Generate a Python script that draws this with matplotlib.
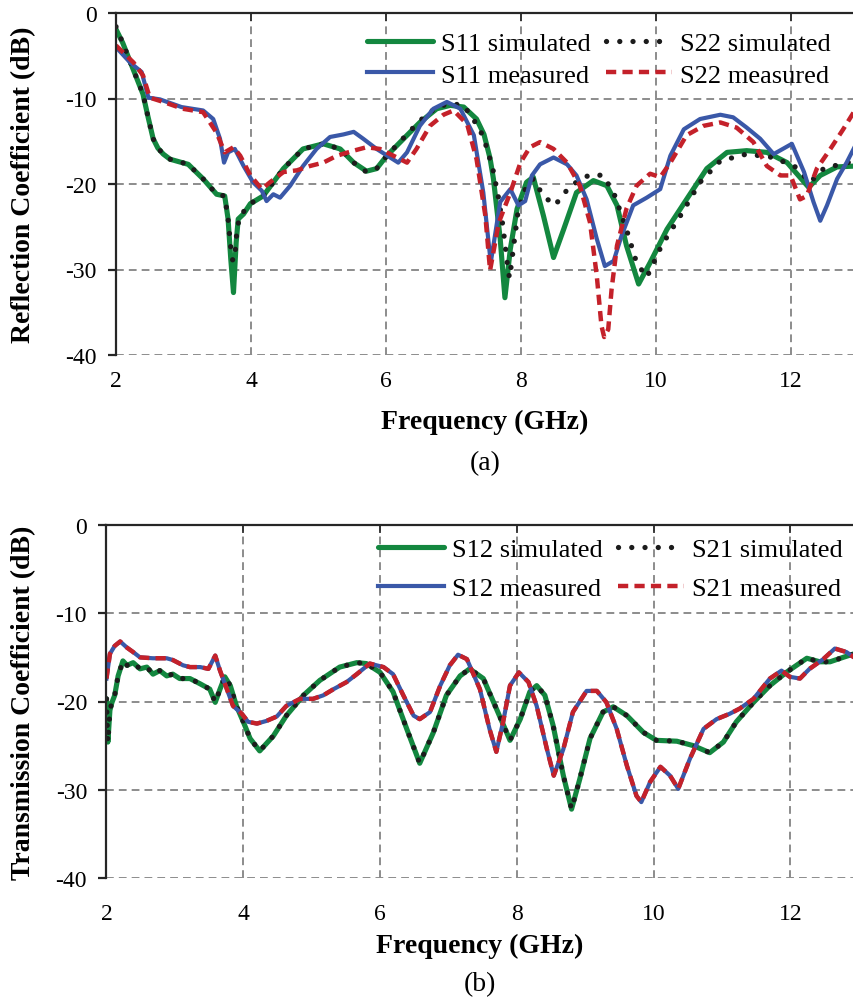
import matplotlib
matplotlib.use('Agg')
import matplotlib.pyplot as plt

plt.rcParams['font.family'] = ['Liberation Serif', 'DejaVu Serif']
plt.rcParams['axes.unicode_minus'] = False

# Reflection coefficient data (frequency in GHz, level in dB)
s11_sim_f = [2.00, 2.10, 2.20, 2.30, 2.40, 2.47, 2.55, 2.62, 2.70, 2.80, 3.07, 3.29, 3.49, 3.61, 3.66, 3.70, 3.74,
             3.78, 3.81, 3.89, 3.99, 4.18, 4.48, 4.77, 5.07, 5.32, 5.52, 5.71, 5.86, 6.01, 6.26,
             6.50, 6.75, 6.95, 7.15, 7.34, 7.45, 7.54, 7.59, 7.69, 7.76, 7.84, 7.94, 8.08, 8.18,
             8.33, 8.48, 8.63, 8.82, 9.07, 9.27, 9.42, 9.56, 9.74, 9.91, 10.16, 10.45, 10.75,
             11.05, 11.34, 11.64, 11.94, 12.26, 12.43, 12.68, 12.95]
s11_sim_db = [-1.9, -3.5, -5.5, -7.5, -9.5, -12.0, -14.7, -15.8, -16.5, -17.1, -17.7, -19.4, -21.2, -21.4, -24.1, -28.8, -32.7,
              -26.8, -24.1, -23.5, -22.3, -21.4, -18.2, -15.9, -15.3, -15.9, -17.5, -18.5, -18.2, -16.7, -14.7,
              -12.8, -11.2, -10.8, -11.0, -12.4, -14.2, -17.0, -19.4, -26.4, -33.3, -27.6, -22.9, -19.8, -19.2,
              -23.7, -28.6, -25.3, -21.0, -19.6, -20.2, -22.5, -27.2, -31.7, -29.2, -25.3, -21.8, -18.2,
              -16.3, -16.1, -16.3, -17.5, -20.4, -19.0, -18.0, -17.9]

s22_sim_f = [2.00, 2.10, 2.20, 2.30, 2.40, 2.47, 2.55, 2.62, 2.70, 2.80, 3.07, 3.29, 3.49, 3.61, 3.66, 3.70, 3.73,
             3.76, 3.79, 3.83, 3.99, 4.18, 4.48, 4.77, 5.07, 5.32, 5.52, 5.71, 5.86, 6.01, 6.26,
             6.50, 6.75, 6.95, 7.15, 7.39, 7.48, 7.58, 7.66, 7.73, 7.81, 7.83, 7.89, 7.96, 8.08,
             8.18, 8.33, 8.50, 8.73, 9.02, 9.22, 9.39, 9.56, 9.71, 9.86, 9.93, 10.08, 10.36, 10.65,
             10.95, 11.34, 11.74, 12.06, 12.28, 12.48, 12.82, 12.95]
s22_sim_db = [-1.6, -3.5, -5.5, -7.5, -9.5, -12.0, -14.7, -15.8, -16.5, -17.1, -17.7, -19.4, -21.2, -21.4, -24.1, -27.5, -29.0,
              -28.5, -25.5, -23.8, -22.3, -21.4, -18.2, -15.9, -15.3, -15.9, -17.5, -18.6, -18.2, -16.7, -14.6,
              -12.6, -11.0, -10.6, -10.8, -13.6, -15.5, -18.2, -21.4, -24.9, -30.3, -31.0, -27.2, -22.9, -20.2,
              -19.4, -21.4, -22.5, -20.2, -18.9, -19.0, -21.4, -25.3, -29.2, -30.9, -29.8, -27.2, -23.7, -19.8,
              -17.3, -16.5, -16.9, -18.0, -19.8, -18.2, -17.5, -17.4]

s11_meas_f = [2.00, 2.21, 2.38, 2.48, 2.65, 2.97, 3.29, 3.44, 3.54, 3.60, 3.66, 3.76, 3.89, 4.03,
              4.16, 4.23, 4.33, 4.43, 4.58, 4.77, 4.97, 5.17, 5.37, 5.52, 5.66, 5.86, 6.06, 6.18,
              6.31, 6.50, 6.70, 6.90, 7.10, 7.30, 7.44, 7.55, 7.69, 7.84, 7.96, 8.06, 8.16, 8.28,
              8.48, 8.68, 8.82, 8.97, 9.12, 9.24, 9.37, 9.49, 9.66, 9.86, 10.06, 10.21, 10.41, 10.65,
              10.95, 11.14, 11.34, 11.54, 11.74, 12.01, 12.19, 12.33, 12.43, 12.53, 12.68, 12.82, 12.95]
s11_meas_db = [-4.0, -5.8, -6.9, -9.9, -10.1, -11.0, -11.4, -12.4, -14.7, -17.5, -16.3, -15.9, -17.9, -19.8,
               -20.8, -22.0, -21.2, -21.6, -20.2, -17.9, -15.9, -14.5, -14.2, -13.9, -14.7, -15.9, -16.9, -17.5,
               -16.3, -13.2, -11.2, -10.4, -11.2, -14.3, -21.0, -29.2, -22.1, -20.6, -22.5, -22.0, -19.0, -17.7,
               -16.9, -17.7, -19.0, -21.8, -26.4, -29.6, -29.0, -26.0, -22.5, -21.6, -20.6, -16.7, -13.6, -12.4,
               -11.9, -12.2, -13.4, -14.7, -16.5, -15.3, -18.6, -22.1, -24.3, -22.5, -19.4, -17.5, -15.5]

s22_meas_f = [2.00, 2.26, 2.40, 2.50, 2.70, 2.99, 3.29, 3.49, 3.61, 3.74, 3.84, 3.99, 4.16, 4.28,
              4.48, 4.68, 4.87, 5.07, 5.27, 5.52, 5.71, 5.91, 6.11, 6.31, 6.45, 6.65, 6.85, 7.00,
              7.20, 7.34, 7.47, 7.54, 7.67, 7.84, 7.99, 8.13, 8.28, 8.48, 8.68, 8.87, 9.02, 9.12,
              9.19, 9.23, 9.29, 9.34, 9.42, 9.56, 9.71, 9.91, 10.06, 10.21, 10.45, 10.70, 10.95, 11.19,
              11.44, 11.64, 11.84, 11.99, 12.13, 12.23, 12.38, 12.58, 12.77, 12.95]
s22_meas_db = [-3.8, -5.8, -7.3, -9.9, -10.4, -11.2, -11.6, -14.0, -16.3, -15.7, -16.7, -19.0, -20.6, -19.8,
               -18.6, -18.4, -17.9, -17.5, -16.7, -16.1, -15.7, -15.9, -16.7, -17.5, -15.9, -13.2, -11.9, -11.4,
               -13.0, -17.1, -23.7, -30.1, -24.5, -21.0, -17.5, -15.7, -15.1, -15.9, -17.5, -20.2, -24.5, -30.7,
               -36.6, -37.9, -37.0, -32.3, -27.2, -22.9, -20.2, -18.8, -19.2, -17.5, -14.3, -13.2, -12.8, -13.4,
               -15.1, -17.9, -19.0, -19.0, -21.8, -21.4, -18.2, -15.9, -13.6, -11.3]

# Transmission coefficient data
s12_sim_f = [2.00, 2.01, 2.02, 2.05, 2.08, 2.12, 2.17, 2.24, 2.30, 2.39, 2.49, 2.59, 2.68, 2.78,
             2.88, 2.97, 3.07, 3.22, 3.37, 3.51, 3.59, 3.66, 3.73, 3.81, 3.90, 4.00, 4.10, 4.24,
             4.44, 4.63, 4.88, 5.12, 5.41, 5.66, 5.80, 6.00, 6.19, 6.39, 6.58, 6.78, 6.97, 7.17,
             7.31, 7.51, 7.70, 7.90, 8.05, 8.19, 8.29, 8.41, 8.53, 8.68, 8.80, 8.92, 9.07, 9.26,
             9.41, 9.61, 9.85, 10.04, 10.34, 10.58, 10.82, 11.02, 11.21, 11.46, 11.70, 11.94, 12.24,
             12.43, 12.58, 12.77, 12.93]
s12_sim_db = [-19.7, -22.5, -24.6, -21.0, -20.1, -19.3, -17.1, -15.4, -15.9, -15.6, -16.3, -16.1, -16.9, -16.5,
              -17.1, -16.9, -17.4, -17.4, -18.0, -18.6, -20.1, -18.6, -17.2, -18.2, -20.5, -22.3, -24.2, -25.6,
              -23.9, -21.6, -19.3, -17.6, -16.1, -15.6, -15.7, -16.7, -18.9, -23.1, -27.0, -23.5, -19.3, -17.1,
              -16.3, -17.4, -20.8, -24.4, -22.0, -18.9, -18.2, -19.3, -22.7, -28.4, -32.2, -28.8, -24.2, -21.2,
              -20.6, -21.6, -23.5, -24.4, -24.5, -25.0, -25.8, -24.6, -22.3, -20.1, -18.2, -16.7, -15.1,
              -15.5, -15.5, -15.0, -14.6]
s21_sim_f = list(s12_sim_f)
s21_sim_db = list(s12_sim_db)

s12_meas_f = [2.00, 2.05, 2.12, 2.20, 2.30, 2.39, 2.49, 2.68, 2.88, 2.97, 3.12, 3.22, 3.37, 3.49,
              3.59, 3.66, 3.76, 3.85, 3.98, 4.07, 4.20, 4.34, 4.49, 4.63, 4.83, 5.02, 5.17, 5.32,
              5.51, 5.66, 5.85, 6.05, 6.19, 6.34, 6.49, 6.58, 6.73, 6.88, 7.02, 7.14, 7.27, 7.46,
              7.60, 7.70, 7.80, 7.90, 8.03, 8.17, 8.29, 8.44, 8.54, 8.68, 8.82, 9.02, 9.17, 9.31,
              9.46, 9.61, 9.75, 9.82, 9.95, 10.10, 10.24, 10.36, 10.53, 10.73, 10.92, 11.11, 11.26,
              11.46, 11.70, 11.87, 11.99, 12.14, 12.28, 12.48, 12.65, 12.82, 12.93]
s12_meas_db = [-17.4, -14.6, -13.7, -13.2, -13.9, -14.4, -15.0, -15.1, -15.1, -15.3, -15.9, -16.1, -16.1, -16.3,
               -14.8, -16.5, -18.6, -20.5, -21.4, -22.3, -22.5, -22.2, -21.7, -20.5, -19.7, -19.7, -19.3, -18.6,
               -17.8, -16.9, -15.7, -16.1, -16.9, -19.3, -21.6, -22.0, -21.2, -18.2, -15.9, -14.7, -15.2, -18.6,
               -23.1, -25.7, -22.3, -18.2, -16.7, -17.8, -20.5, -25.4, -28.4, -25.4, -21.2, -18.8, -18.8, -20.1,
               -23.1, -27.3, -30.7, -31.4, -29.1, -27.4, -28.4, -29.9, -26.5, -23.1, -22.0, -21.4, -20.8,
               -19.7, -17.4, -16.5, -17.2, -17.4, -16.3, -15.2, -14.0, -14.4, -15.0]
s21_meas_f = list(s12_meas_f)
s21_meas_db = list(s12_meas_db)

freq_ticks = [2, 4, 6, 8, 10, 12]
db_ticks = [0, -10, -20, -30, -40]

GREEN = '#13873f'
BLUE = '#3a58a8'
RED = '#c4212a'
DOTS = '#1c1c1c'
GRID = '#8c8c8c'


def style_axes(ax, xmax, ylabel, ylabel_x, xpad):
    ax.set_xlim(2, xmax)
    ax.set_ylim(-40, 0)
    ax.set_xticks(freq_ticks)
    ax.set_yticks(db_ticks)
    ax.set_yticklabels([str(v) for v in db_ticks])
    ax.grid(True, color=GRID, linestyle=(0, (4, 2.6)), linewidth=1.4)
    ax.set_axisbelow(True)
    for side in ['right', 'bottom']:
        ax.spines[side].set_visible(False)
    for side in ['left', 'top']:
        ax.spines[side].set_color('#262626')
        ax.spines[side].set_linewidth(1.6)
    ax.tick_params(axis='x', bottom=False, top=True, labelbottom=True, labeltop=False,
                   direction='in', length=6, width=1.2, color='#262626', labelsize=17, pad=xpad)
    ax.tick_params(axis='y', direction='out', length=6, width=1.6, color='#262626',
                   labelsize=17, pad=8)
    ax.set_ylabel(ylabel, fontsize=20, fontweight='bold')
    ax.yaxis.set_label_coords(ylabel_x, 0.5)


def draw_pair(ax, sim_a, sim_b, meas_a, meas_b, names):
    h1, = ax.plot(sim_a[0], sim_a[1], color=GREEN, lw=3.7, solid_capstyle='round',
                  solid_joinstyle='round', label=names[0])
    h2, = ax.plot(sim_b[0], sim_b[1], color=DOTS, lw=3.8, linestyle=(0, (0.01, 2.5)),
                  dash_capstyle='round', label=names[1])
    h3, = ax.plot(meas_a[0], meas_a[1], color=BLUE, lw=3.0, solid_joinstyle='round', label=names[2])
    h4, = ax.plot(meas_b[0], meas_b[1], color=RED, lw=3.2, linestyle=(0, (2.3, 1.4)), label=names[3])
    return [h1, h3, h2, h4]


fig = plt.figure(figsize=(8.54, 10.03), dpi=100)

# (a) reflection coefficients
ax1 = fig.add_axes([116 / 854, (1003 - 356) / 1003, 738 / 854, 342 / 1003])
handles = draw_pair(ax1, (s11_sim_f, s11_sim_db), (s22_sim_f, s22_sim_db),
                    (s11_meas_f, s11_meas_db), (s22_meas_f, s22_meas_db),
                    ['S11 simulated', 'S22 simulated', 'S11 measured', 'S22 measured'])
style_axes(ax1, 12.93, 'Reflection Coefficient (dB)', -0.108, 11)
ax1.legend(handles=handles, ncol=2, loc='upper left', bbox_to_anchor=(0.34, 0.945),
           frameon=False, fontsize=19, handlelength=2.5, handletextpad=0.3,
           columnspacing=0.6, labelspacing=0.3, borderpad=0, borderaxespad=0)
fig.text(485 / 854, 1 - 422 / 1003, 'Frequency (GHz)', ha='center', va='center',
         fontsize=20, fontweight='bold')
fig.text(485 / 854, 1 - 464 / 1003, '(a)', ha='center', va='center', fontsize=20)

# (b) transmission coefficients
ax2 = fig.add_axes([106.5 / 854, (1003 - 879) / 1003, 747.5 / 854, 353 / 1003])
handles = draw_pair(ax2, (s12_sim_f, s12_sim_db), (s21_sim_f, s21_sim_db),
                    (s12_meas_f, s12_meas_db), (s21_meas_f, s21_meas_db),
                    ['S12 simulated', 'S21 simulated', 'S12 measured', 'S21 measured'])
style_axes(ax2, 12.93, 'Transmission Coefficient (dB)', -0.094, 18)
ax2.legend(handles=handles, ncol=2, loc='upper left', bbox_to_anchor=(0.363, 0.965),
           frameon=False, fontsize=19, handlelength=2.5, handletextpad=0.3,
           columnspacing=0.6, labelspacing=0.6, borderpad=0, borderaxespad=0)
fig.text(480 / 854, 1 - 946 / 1003, 'Frequency (GHz)', ha='center', va='center',
         fontsize=20, fontweight='bold')
fig.text(480 / 854, 1 - 985 / 1003, '(b)', ha='center', va='center', fontsize=20)

fig.savefig('out.png', dpi=100)
